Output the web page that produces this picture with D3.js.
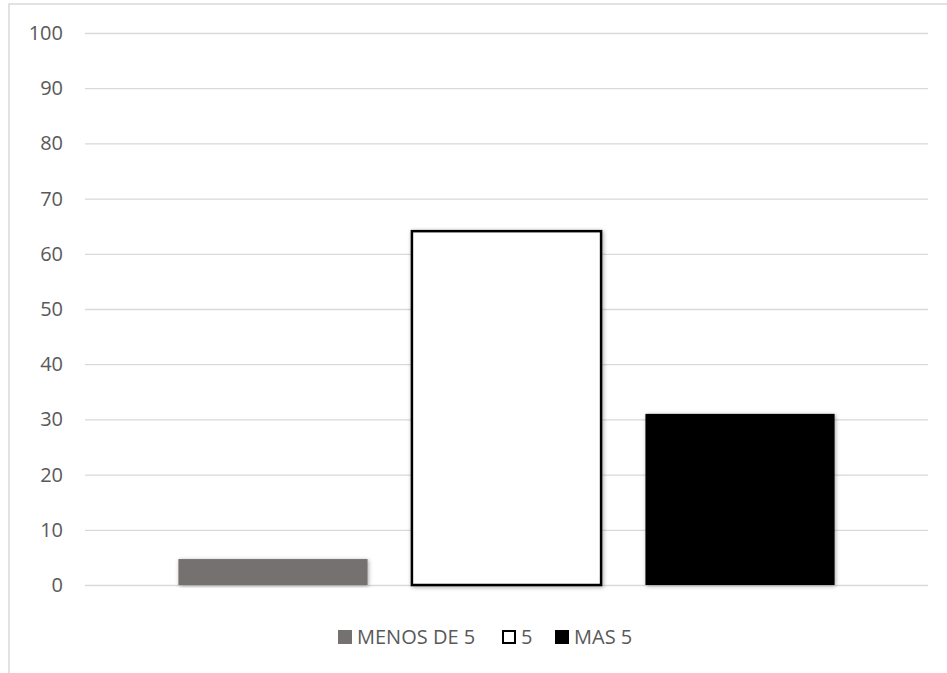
<!DOCTYPE html>
<html>
<head>
<meta charset="utf-8">
<script src="https://cdn.jsdelivr.net/npm/d3@7"></script>
<style>
  html, body { margin: 0; padding: 0; background: #fff; }
  svg { display: block; font-family: "Open Sans", sans-serif; }
</style>
</head>
<body>
<svg id="chart" width="947" height="673"></svg>
<script>
// Series (one bar each) and their values
const seriesNames = ["MENOS DE 5", "5", "MAS 5"];
const seriesValues = [4.7, 64.1, 31.0];
const seriesFill = ["#767171", "#ffffff", "#000000"];
const seriesStroke = ["none", "#000000", "none"];
const yTicks = [0, 10, 20, 30, 40, 50, 60, 70, 80, 90, 100];

const svg = d3.select("#chart");
const W = 947, H = 673;
const plotLeft = 85, plotRight = 928, plotTop = 33, plotBottom = 585;

// Chart frame
svg.append("rect")
  .attr("x", 9).attr("y", 4)
  .attr("width", W + 20).attr("height", H + 20)
  .attr("fill", "#fff").attr("stroke", "#d9d9d9").attr("stroke-width", 1.5);

const defs = svg.append("defs");
const f = defs.append("filter").attr("id", "shadow")
  .attr("x", "-10%").attr("y", "-10%").attr("width", "120%").attr("height", "120%");
f.append("feDropShadow")
  .attr("dx", 1).attr("dy", 1).attr("stdDeviation", 2)
  .attr("flood-color", "#000").attr("flood-opacity", 0.35);

const x = d3.scaleBand().domain(seriesNames).range([plotLeft, plotRight])
  .paddingInner(0.19).paddingOuter(0.4);
const y = d3.scaleLinear().domain([0, 100]).range([plotBottom, plotTop]);

// Gridlines and tick labels
const yAxis = d3.axisLeft(y).tickValues(yTicks).tickSize(-(plotRight - plotLeft)).tickPadding(22);
const gy = svg.append("g").attr("transform", `translate(${plotLeft},0)`).call(yAxis);
gy.select(".domain").remove();
gy.selectAll(".tick line").attr("stroke", "#d9d9d9").attr("stroke-width", 1.3);
gy.selectAll(".tick text")
  .attr("fill", "#595959").attr("font-size", 20)
  .attr("font-family", "'Open Sans', sans-serif");

// Bars
const data = seriesNames.map((n, i) => ({ name: n, value: seriesValues[i], fill: seriesFill[i], stroke: seriesStroke[i] }));
svg.append("g").selectAll("rect").data(data).join("rect")
  .attr("x", d => x(d.name))
  .attr("y", d => y(d.value))
  .attr("width", x.bandwidth())
  .attr("height", d => y(0) - y(d.value))
  .attr("fill", d => d.fill)
  .attr("stroke", d => d.stroke)
  .attr("stroke-width", 2.5)
  .attr("filter", "url(#shadow)");

// Legend
const legendY = 637;
const legendX = [338, 502, 555];
const lg = svg.append("g");
data.forEach((d, i) => {
  const g = lg.append("g").attr("transform", `translate(${legendX[i]},${legendY})`);
  g.append("rect")
    .attr("x", d.stroke === "none" ? 0 : 1).attr("y", d.stroke === "none" ? -7 : -6)
    .attr("width", d.stroke === "none" ? 14 : 12).attr("height", d.stroke === "none" ? 14 : 12)
    .attr("fill", d.fill).attr("stroke", d.stroke).attr("stroke-width", 2);
  g.append("text")
    .attr("x", 19).attr("y", 0).attr("dy", "0.35em")
    .attr("fill", "#595959").attr("font-size", 20)
    .text(d.name);
});
</script>
</body>
</html>
